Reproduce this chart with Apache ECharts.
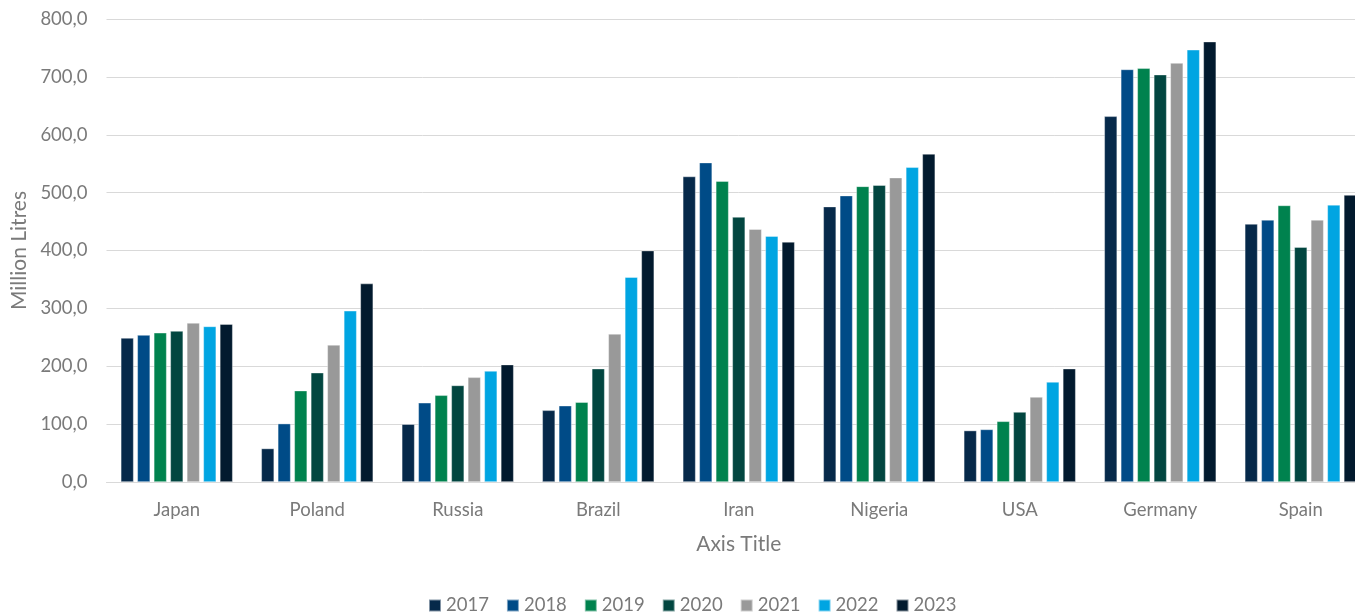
<!DOCTYPE html>
<html>
<head>
<meta charset="utf-8">
<script src="https://cdn.jsdelivr.net/npm/echarts@6/dist/echarts.min.js"></script>
<style>
  html, body { margin: 0; padding: 0; background: #fff; overflow: hidden; width: 1355px; height: 616px; }
  /* plot runs past the right edge, so the canvas is a little wider than the page */
  #chart { width: 1375px; height: 616px; }
</style>
</head>
<body>
<div id="chart"></div>
<script>
// Countries along the category axis
const countries = ['Japan', 'Poland', 'Russia', 'Brazil', 'Iran', 'Nigeria', 'USA', 'Germany', 'Spain'];

// Yearly volumes per country, million litres
const years = ['2017', '2018', '2019', '2020', '2021', '2022', '2023'];
const v2017 = [249, 58, 100, 124, 528, 476, 89, 632, 446];
const v2018 = [254, 101, 137, 132, 552, 495, 91, 713, 453];
const v2019 = [258, 158, 150, 138, 520, 511, 105, 715, 478];
const v2020 = [261, 189, 167, 196, 458, 513, 121, 704, 406];
const v2021 = [275, 237, 181, 256, 437, 526, 147, 724, 453];
const v2022 = [269, 296, 192, 354, 425, 544, 173, 747, 479];
const v2023 = [273, 343, 203, 400, 415, 567, 196, 761, 496];

const yTicks = { min: 0, max: 800, step: 100 };

const palette = ['#06294A', '#004B87', '#00824E', '#024640', '#999999', '#00A5E2', '#021A2E'];
const seriesValues = [v2017, v2018, v2019, v2020, v2021, v2022, v2023];

const textColor = '#7a7a7a';
const fontFamily = 'Lato, "Open Sans", sans-serif';

const chart = echarts.init(document.getElementById('chart'), null, { renderer: 'canvas' });

chart.setOption({
  animation: false,
  backgroundColor: '#ffffff',
  textStyle: { fontFamily: fontFamily },
  grid: { left: 106.5, top: 19, width: 1264.5, bottom: 134, containLabel: false },
  legend: {
    data: years,
    bottom: 1,
    left: 428,
    padding: 0,
    itemWidth: 12,
    itemHeight: 12,
    itemGap: 17,
    icon: 'rect',
    textStyle: { color: textColor, fontSize: 18.5, fontFamily: fontFamily }
  },
  xAxis: {
    type: 'category',
    data: countries,
    name: 'Axis Title',
    nameLocation: 'middle',
    nameGap: 52,
    nameTextStyle: { color: textColor, fontSize: 21, fontFamily: fontFamily },
    axisLine: { lineStyle: { color: '#d9d9d9', width: 1 } },
    axisTick: { show: false },
    axisLabel: { color: textColor, fontSize: 18.5, margin: 19, fontFamily: fontFamily }
  },
  yAxis: {
    type: 'value',
    min: yTicks.min,
    max: yTicks.max,
    interval: yTicks.step,
    name: 'Million Litres',
    nameLocation: 'middle',
    nameGap: 75,
    nameTextStyle: { color: textColor, fontSize: 21, fontFamily: fontFamily },
    axisLine: { show: false },
    axisTick: { show: false },
    splitLine: { lineStyle: { color: '#d9d9d9', width: 1 } },
    axisLabel: {
      color: textColor,
      fontSize: 18.5,
      margin: 19,
      fontFamily: fontFamily,
      formatter: v => v.toFixed(1).replace('.', ',')
    }
  },
  series: years.map((y, i) => ({
    name: y,
    type: 'bar',
    data: seriesValues[i],
    barWidth: 13,
    barGap: '27%',
    itemStyle: { color: palette[i], borderColor: 'rgba(255,255,255,0.5)', borderWidth: 0.75 }
  }))
});
</script>
</body>
</html>
